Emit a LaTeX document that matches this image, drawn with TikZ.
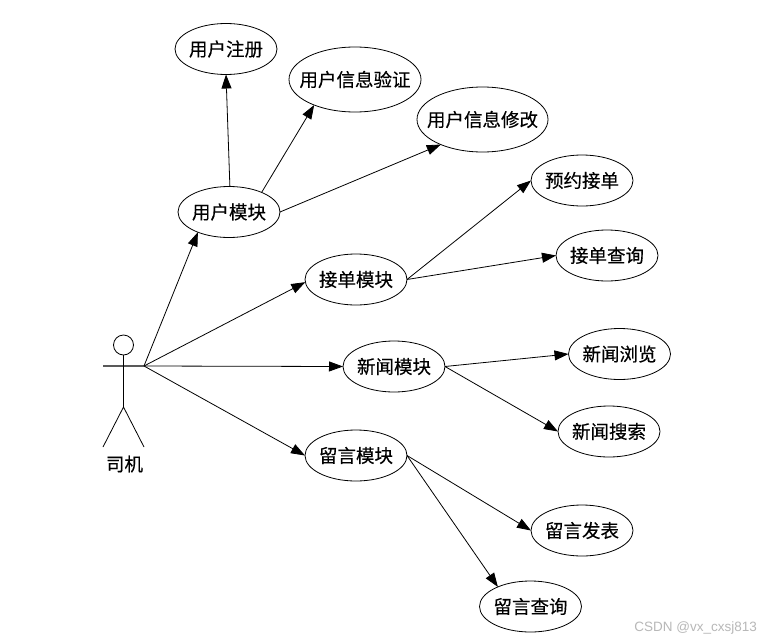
\documentclass[tikz,border=0pt]{standalone}
\usepackage{fontspec}
\usetikzlibrary{arrows.meta,shapes.geometric}
\setmainfont[FakeBold=0.35]{Noto Sans CJK SC}
\newfontfamily\wmfont{Liberation Sans}
\tikzset{
  uc/.style={ellipse,draw=black,line width=0.8pt,inner sep=0pt,outer sep=0pt,minimum width=102pt,minimum height=51pt,font=\fontsize{18.5pt}{20pt}\selectfont},
  uclarge/.style={uc,minimum width=#1,minimum height=65pt},
  edge/.style={draw=black,line width=0.8pt,-{Triangle[length=14pt,width=10pt]}},
  stick/.style={draw=black,line width=0.8pt}
}
\newcommand{\tx}[1]{\makebox[0pt]{#1}}
\begin{document}
\begin{tikzpicture}[x=1pt,y=-1pt]
\useasboundingbox[fill=white] (0,0) rectangle (765,642);
\node[uc] (reg) at (226,49) {\tx{用户注册}};
\node[uclarge=132pt] (verify) at (355,79.5) {\tx{用户信息验证}};
\node[uclarge=131pt] (edit) at (482.5,119.5) {\tx{用户信息修改}};
\node[uc] (user) at (229,212) {\tx{用户模块}};
\node[uc] (order) at (356,279.5) {\tx{接单模块}};
\node[uc] (news) at (394,366.5) {\tx{新闻模块}};
\node[uc] (msg) at (356,455.5) {\tx{留言模块}};
\node[uc] (reserve) at (582,180.5) {\tx{预约接单}};
\node[uc] (oquery) at (607,255.5) {\tx{接单查询}};
\node[uc] (browse) at (619.5,354) {\tx{新闻浏览}};
\node[uc] (search) at (609,431.5) {\tx{新闻搜索}};
\node[uc] (publish) at (582,530.5) {\tx{留言发表}};
\node[uc] (mquery) at (530.5,606.5) {\tx{留言查询}};
% actor
\node[circle,draw=black,line width=0.8pt,minimum size=20pt,inner sep=0pt,outer sep=0pt] (head) at (123.5,345) {};
\coordinate (armL) at (103,366);
\coordinate (hand) at (144,366);
\coordinate (hip) at (123.5,407);
\coordinate (footL) at (103,447);
\coordinate (footR) at (144,447);
\draw[draw=black!65,line width=1.2pt] (armL) -- (hand);
\draw[stick] (head.south) -- (hip);
\draw[stick] (footL) -- (hip) -- (footR);
\node[font=\fontsize{18.5pt}{20pt}\selectfont] (driver) at (124.5,464) {司机};
% edges
\draw[edge] (hand) -- (user.213);
\draw[edge] (hand) -- (order.183);
\draw[edge] (hand) -- (news.180);
\draw[edge] (hand) -- (msg.180);
\draw[edge] (user.88) -- (reg.270);
\draw[edge] (user.31) -- (verify.212);
\draw[edge] (user.0) -- (edit.211);
\draw[edge] (order.0) -- (reserve.180);
\draw[edge] (order.0) -- (oquery.180);
\draw[edge] (news.0) -- (browse.180);
\draw[edge] (news.0) -- (search.180);
\draw[edge] (msg.0) -- (publish.180);
\draw[edge] (msg.0) -- (mquery.149);
\node[font=\wmfont\fontsize{13.5pt}{15pt}\selectfont,text=black!28,anchor=east,inner sep=0pt] (mark) at (757,628) {CSDN @vx\_cxsj813};
\end{tikzpicture}
\end{document}
